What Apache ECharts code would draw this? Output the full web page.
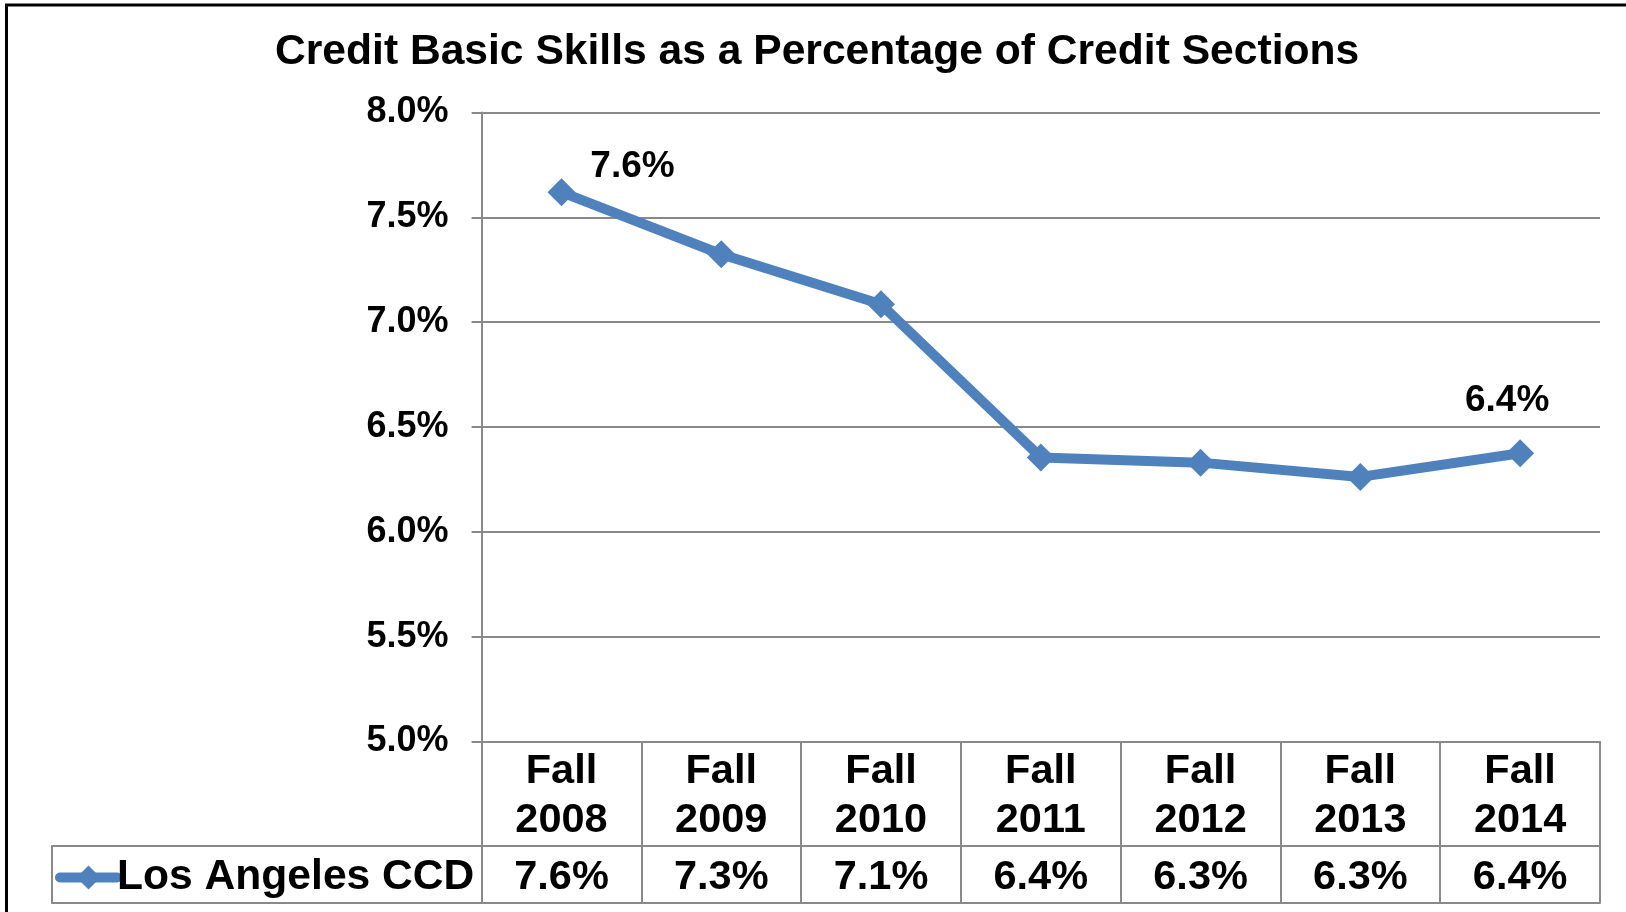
<!DOCTYPE html>
<html>
<head>
<meta charset="utf-8">
<script src="https://cdn.jsdelivr.net/npm/echarts@6/dist/echarts.min.js"></script>
<style>
html,body{margin:0;padding:0;background:#fff;}
#c{width:1626px;height:912px;}
</style>
</head>
<body>
<div id="c"></div>
<script>
// ---- data ----
var titleText = 'Credit Basic Skills as a Percentage of Credit Sections';
var seriesName = 'Los Angeles CCD';
var categories = ['Fall 2008', 'Fall 2009', 'Fall 2010', 'Fall 2011', 'Fall 2012', 'Fall 2013', 'Fall 2014'];
var values = [7.62, 7.324, 7.085, 6.355, 6.33, 6.262, 6.375];
var yMin = 5.0, yMax = 8.0, yStep = 0.5;
var labeledPoints = [0, 6];

// ---- styles ----
var FONT = 'Liberation Sans, Arial, sans-serif';
var BLUE = '#4F81BD';
var GRID = '#898989';
var labelOffsets = { 0: [71, -25], 6: [-13, -52] };

function pct(v) { return v.toFixed(1) + '%'; }

var chart = echarts.init(document.getElementById('c'));

var seriesData = values.map(function (v, i) {
  var item = { value: v };
  if (labeledPoints.indexOf(i) >= 0) {
    item.label = {
      show: true,
      position: 'inside',
      offset: labelOffsets[i],
      formatter: function (p) { return pct(p.value); },
      fontFamily: FONT, fontWeight: 'bold', fontSize: 37, color: '#000'
    };
  }
  return item;
});

var option = {
  backgroundColor: '#fff',
  animation: false,
  title: {
    text: titleText,
    left: 275, top: 31,
    padding: 0,
    textStyle: { fontFamily: FONT, fontWeight: 'bold', fontSize: 42.6, color: '#000' }
  },
  legend: {
    data: [seriesName],
    left: 55, top: 856,
    padding: 0,
    itemWidth: 57, itemHeight: 30, itemGap: 0,
    textStyle: { fontFamily: FONT, fontWeight: 'bold', fontSize: 42.6, color: '#000', padding: [0, 0, 0, -5] },
    lineStyle: { width: 10, cap: 'round', color: BLUE },
    selectedMode: false
  },
  grid: [
    { left: 481.6, right: 26, top: 112.5, bottom: 170.5, containLabel: false },
    { left: 52, right: 26, top: 846, bottom: 9, containLabel: false }
  ],
  xAxis: [
    {
      type: 'category', gridIndex: 0, data: categories, boundaryGap: true,
      axisLine: { show: true, lineStyle: { color: GRID, width: 2 } },
      axisTick: { show: true, interval: 0, length: 161, lineStyle: { color: GRID, width: 2 } },
      axisLabel: {
        interval: 0, margin: 2,
        formatter: function (val, idx) {
          var parts = val.split(' ');
          return '{a|' + parts[0] + '}\n{b|' + parts[1] + '}\n{v|' + pct(values[idx]) + '}';
        },
        rich: {
          a: { fontFamily: FONT, fontWeight: 'bold', fontSize: 41.5, color: '#000', lineHeight: 56 },
          b: { fontFamily: FONT, fontWeight: 'bold', fontSize: 41.5, color: '#000', lineHeight: 42 },
          v: { fontFamily: FONT, fontWeight: 'bold', fontSize: 41.5, color: '#000', lineHeight: 73 }
        }
      },
      splitLine: { show: false }
    },
    {
      type: 'value', gridIndex: 1, min: 0, max: 1, position: 'top',
      axisLine: { show: true, onZero: false, lineStyle: { color: GRID, width: 2 } },
      axisTick: { show: false }, axisLabel: { show: false }, splitLine: { show: false }
    },
    {
      type: 'value', gridIndex: 1, min: 0, max: 1, position: 'bottom',
      axisLine: { show: true, onZero: false, lineStyle: { color: GRID, width: 2 } },
      axisTick: { show: false }, axisLabel: { show: false }, splitLine: { show: false }
    }
  ],
  yAxis: [
    {
      type: 'value', gridIndex: 0, min: yMin, max: yMax, interval: yStep,
      axisLine: { show: true, lineStyle: { color: GRID, width: 2 } },
      axisTick: { show: true, length: 10, lineStyle: { color: GRID, width: 2 } },
      axisLabel: {
        margin: 33, formatter: function (v) { return pct(v); },
        padding: [8, 0, 0, 0],
        fontFamily: FONT, fontWeight: 'bold', fontSize: 36, color: '#000'
      },
      splitLine: { show: true, lineStyle: { color: GRID, width: 2 } }
    },
    {
      type: 'value', gridIndex: 1, min: 0, max: 1, position: 'left',
      axisLine: { show: true, onZero: false, lineStyle: { color: GRID, width: 2 } },
      axisTick: { show: false }, axisLabel: { show: false }, splitLine: { show: false }
    }
  ],
  graphic: [
    {
      type: 'rect', silent: true, z: 100,
      shape: { x: 6.5, y: 5, width: 1800, height: 1200 },
      style: { fill: null, stroke: '#000', lineWidth: 3 }
    }
  ],
  series: [
    {
      name: seriesName, type: 'line', xAxisIndex: 0, yAxisIndex: 0,
      data: seriesData,
      symbol: 'diamond', symbolSize: 28,
      lineStyle: { color: BLUE, width: 10 },
      itemStyle: { color: BLUE },
      label: { show: false },
      z: 5
    }
  ]
};
chart.setOption(option);
</script>
</body>
</html>
